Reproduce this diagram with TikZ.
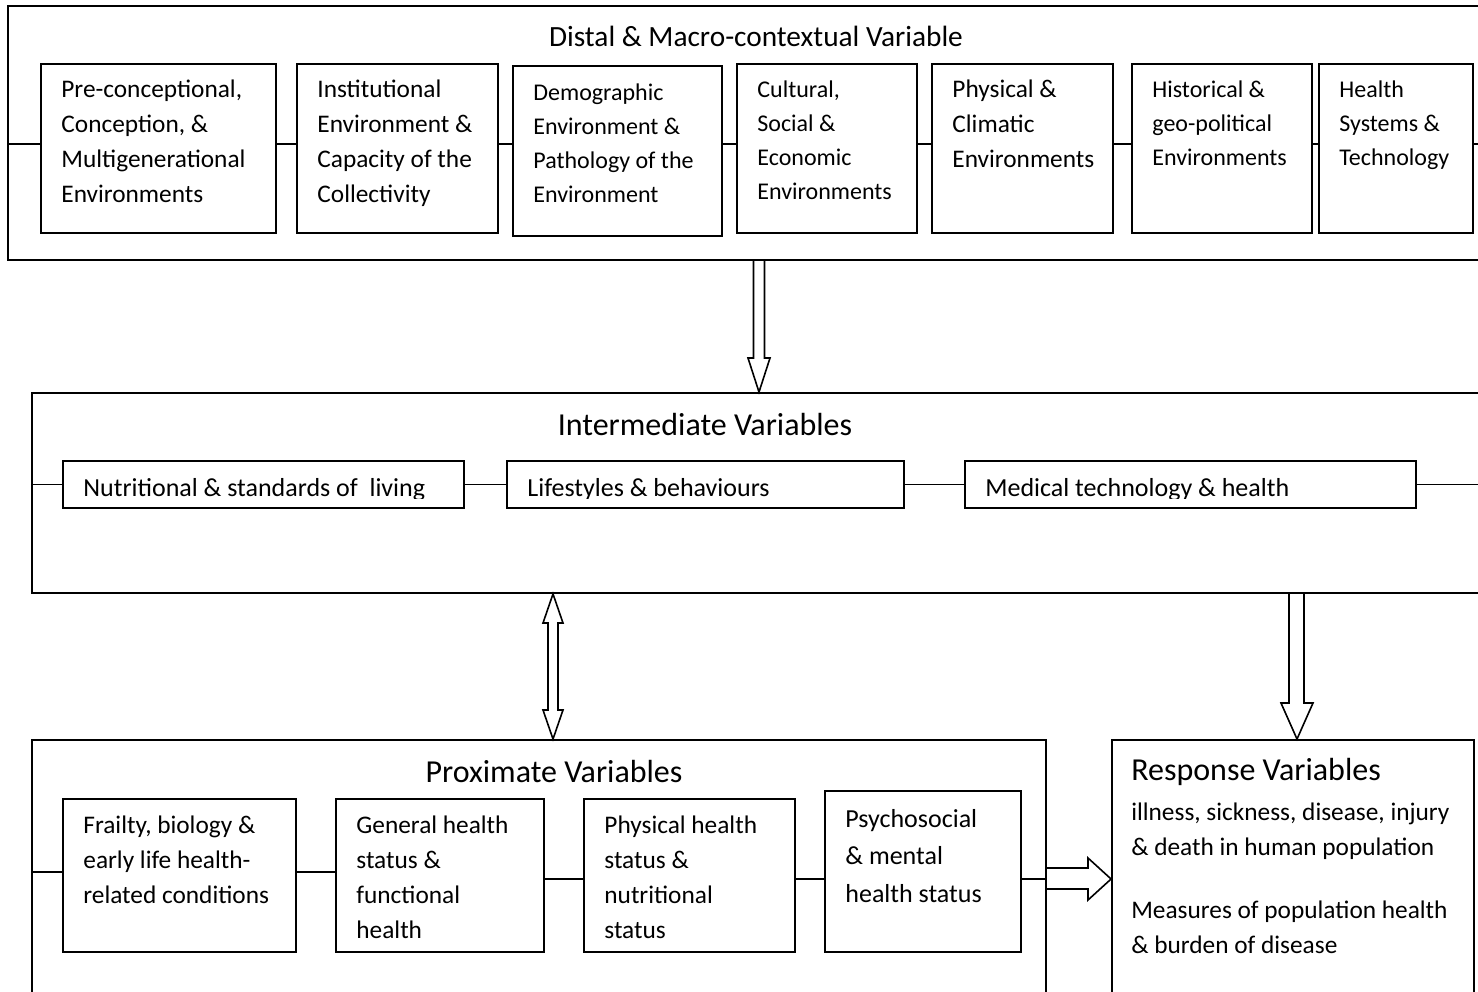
\documentclass[tikz,border=0pt]{standalone}
\usepackage{fontspec}
\setmainfont{Carlito}
\usepackage{tikz}
\usetikzlibrary{fit}

\tikzset{
  frame/.style={draw, line width=1.4pt, inner sep=0pt},
  box/.style={draw, line width=1.3pt, inner sep=0pt},
  link/.style={line width=1.2pt},
  hollow/.style={line width=1.2pt, line join=miter},
  boxtext/.style={anchor=north west, inner sep=0pt, align=left, font=\fontsize{19}{26.25}\selectfont},
  smalltext/.style={boxtext, font=\fontsize{18}{25.5}\selectfont},
  titletext/.style={inner sep=0pt, font=\fontsize{24}{28}\selectfont},
}

\begin{document}
\begin{tikzpicture}[x=0.75pt,y=0.75pt,yscale=-1,xscale=1]
        \useasboundingbox (0,0) rectangle (1478,992);
        \clip (0,0) rectangle (1478,992);

        % distal & macro-contextual
        \node[frame, fit={(8,6) (1500,260)}] (distal) {};
        \node[titletext, font=\fontsize{22}{26}\selectfont] (distalt) at (756,36) {Distal \& Macro-contextual Variable};
        \coordinate (dline) at (0,144);
        \node[box, fit={(41,64) (276,233)}] (d1) {};
        \node[box, fit={(297,64) (498,233)}] (d2) {};
        \node[box, fit={(513,66) (722,236)}] (d3) {};
        \node[box, fit={(737,64) (917,233)}] (d4) {};
        \node[box, fit={(932,64) (1113,233)}] (d5) {};
        \node[box, fit={(1132,64) (1312,233)}] (d6) {};
        \node[box, fit={(1319,64) (1473,233)}] (d7) {};
        \node[boxtext] (d1t) at ([shift={(21,17)}]d1.north west) {Pre-conceptional,\\Conception, \&\\Multigenerational\\Environments};
        \node[boxtext] (d2t) at ([shift={(21,17)}]d2.north west) {Institutional\\Environment \&\\Capacity of the\\Collectivity};
        \node[smalltext] (d3t) at ([shift={(21,18)}]d3.north west) {Demographic\\Environment \&\\Pathology of the\\Environment};
        \node[smalltext] (d4t) at ([shift={(21,17)}]d4.north west) {Cultural,\\Social \&\\Economic\\Environments};
        \node[boxtext] (d5t) at ([shift={(21,17)}]d5.north west) {Physical \&\\Climatic\\Environments};
        \node[smalltext] (d6t) at ([shift={(21,17)}]d6.north west) {Historical \&\\geo-political\\Environments};
        \node[smalltext] (d7t) at ([shift={(21,17)}]d7.north west) {Health\\Systems \&\\Technology};
        \draw[link] (distal.west |- dline) -- (d1.west |- dline);
        \draw[link] (d1.east |- dline) -- (d2.west |- dline);
        \draw[link] (d2.east |- dline) -- (d3.west |- dline);
        \draw[link] (d3.east |- dline) -- (d4.west |- dline);
        \draw[link] (d4.east |- dline) -- (d5.west |- dline);
        \draw[link] (d5.east |- dline) -- (d6.west |- dline);
        \draw[link] (d6.east |- dline) -- (d7.west |- dline);
        \draw[link] (d7.east |- dline) -- (distal.east |- dline);

        % intermediate
        \node[frame, fit={(32,393) (1500,593)}] (inter) {};
        \node[titletext] (intert) at (705,425) {Intermediate Variables};
        \node[box, fit={(63,461) (464,508)}] (m1) {};
        \node[box, fit={(507,461) (904,508)}] (m2) {};
        \node[box, fit={(965,461) (1416,508)}] (m3) {};
        \begin{scope}
          \clip (63,461) rectangle (1416,498.5);
          \node[boxtext, font=\fontsize{19.5}{26}\selectfont] (m1t) at ([shift={(21,18.5)}]m1.north west) {Nutritional \& standards of\ \ living};
          \node[boxtext, font=\fontsize{19.5}{26}\selectfont] (m2t) at ([shift={(21,18.5)}]m2.north west) {Lifestyles \& behaviours};
          \node[boxtext, font=\fontsize{19.5}{26}\selectfont] (m3t) at ([shift={(21,18.5)}]m3.north west) {Medical technology \& health};
        \end{scope}
        \draw[link] (inter.west |- m1.west) -- (m1.west);
        \draw[link] (m1.east) -- (m2.west);
        \draw[link] (m2.east) -- (m3.west);
        \draw[link] (m3.east) -- (inter.east |- m3.east);

        % proximate
        \node[frame, fit={(32,740) (1046,1010)}] (prox) {};
        \node[titletext] (proxt) at (554,771) {Proximate Variables};
        \node[box, fit={(63,799) (296,952)}] (p1) {};
        \node[box, fit={(336,799) (544,952)}] (p2) {};
        \node[box, fit={(584,799) (795,952)}] (p3) {};
        \node[box, fit={(825,791) (1021,952)}] (p4) {};
        \node[boxtext] (p1t) at ([shift={(21,17)}]p1.north west) {Frailty, biology \&\\early life health-\\related conditions};
        \node[boxtext] (p2t) at ([shift={(21,17)}]p2.north west) {General health\\status \&\\functional\\health};
        \node[boxtext] (p3t) at ([shift={(21,17)}]p3.north west) {Physical health\\status \&\\nutritional\\status};
        \node[boxtext, font=\fontsize{19.5}{28}\selectfont] (p4t) at ([shift={(21,19)}]p4.north west) {Psychosocial\\\& mental\\health status};
        \draw[link] (prox.west |- 0,872) -- (p1.west |- 0,872);
        \draw[link] (p1.east |- 0,872) -- (p2.west |- 0,872);
        \draw[link] (p2.east |- 0,879) -- (p3.west |- 0,879);
        \draw[link] (p3.east |- 0,879) -- (p4.west |- 0,879);
        \draw[link] (p4.east |- 0,879) -- (prox.east |- 0,879);

        % response
        \node[frame, fit={(1112,740) (1474,1010)}] (resp) {};
        \node[titletext, anchor=west] (respt) at (1131,772) {Response Variables};
        \node[boxtext] (respb) at (1131,803) {illness, sickness, disease, injury\\\& death in human population\\[21pt]Measures of population health\\\& burden of disease};

        % hollow arrows
        \draw[hollow] (753.5,0 |- distal.south) -- (753.5,358) -- (748,358) -- (759,0 |- inter.north) -- (770,358) -- (764.5,358) -- (764.5,0 |- distal.south);
        \draw[hollow] (553,0 |- inter.south) -- (563,623) -- (558,623) -- (558,710) -- (563,710) -- (553,0 |- prox.north) -- (543,710) -- (548,710) -- (548,623) -- (543,623) -- cycle;
        \draw[hollow] (1289,0 |- inter.south) -- (1289,703) -- (1281,703) -- (1297,0 |- resp.north) -- (1313,703) -- (1304,703) -- (1304,0 |- inter.south);
        \draw[hollow] (prox.east |- 0,868) -- (1088,868) -- (1088,858) -- (resp.west |- 0,879) -- (1088,900) -- (1088,889) -- (prox.east |- 0,889);
\end{tikzpicture}
\end{document}
